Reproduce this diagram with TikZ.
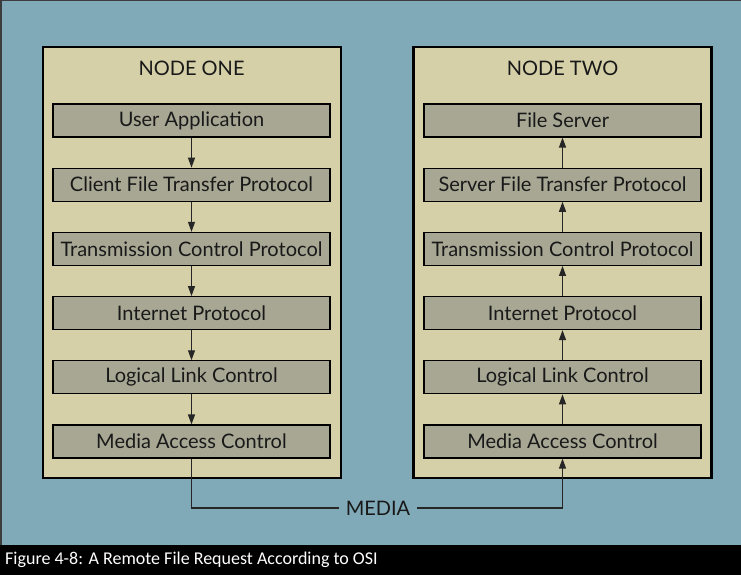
\documentclass[tikz,border=0pt]{standalone}
\usepackage{fontspec}
\setmainfont{Lato}
\newfontfamily\capfont{Carlito}
\usetikzlibrary{arrows.meta}
\definecolor{bgblue}{RGB}{128,170,184}
\definecolor{nodefill}{RGB}{213,208,168}
\definecolor{layerfill}{RGB}{168,167,148}
\definecolor{edgegray}{RGB}{60,60,60}
\tikzset{
  nodebox/.style={draw=black, line width=2.8pt, fill=nodefill, minimum width=298pt, minimum height=431pt, inner sep=0pt},
  layer/.style={draw=black, line width=1.1pt, fill=layerfill, minimum width=277pt, minimum height=33pt, inner sep=0pt, font=\fontsize{20}{24}\selectfont, text=black!90},
  title/.style={font=\fontsize{20}{24}\selectfont, text=black!90},
  conn/.style={line width=1.2pt, black!85},
  arr/.style={conn, -{Triangle[length=10pt,width=7pt]}}
}
\begin{document}
\begin{tikzpicture}[x=1pt,y=-1pt]
\useasboundingbox (0,0) rectangle (741,575);
\fill[bgblue] (0,0) rectangle (741,575);
\draw[edgegray, line width=1.5pt] (0.75,575) -- (0.75,0.75) -- (741,0.75);
\fill[black] (0,545) rectangle (741,575);
\node[anchor=west, text=white, inner sep=0pt, font=\capfont\fontsize{18}{22}\selectfont] (cap) at (5,560) {Figure 4-8: A Remote File Request According to OSI};
% node one
\node[nodebox] (n1) at (192,262.5) {};
\node[title] (t1) at (191.5,68) {NODE ONE};
\node[layer] (a1) at (191.5,120.5) {User Application};
\node[layer] (a2) at (191.5,184.7) {Client File Transfer Protocol};
\node[layer] (a3) at (191.5,248.9) {Transmission Control Protocol};
\node[layer] (a4) at (191.5,313.1) {Internet Protocol};
\node[layer] (a5) at (191.5,377.3) {Logical Link Control};
\node[layer] (a6) at (191.5,441.5) {Media Access Control};
% node two
\node[nodebox] (n2) at (562.5,262.5) {};
\node[title] (t2) at (562.5,68) {NODE TWO};
\node[layer] (b1) at (562.5,120.5) {File Server};
\node[layer] (b2) at (562.5,184.7) {Server File Transfer Protocol};
\node[layer] (b3) at (562.5,248.9) {Transmission Control Protocol};
\node[layer] (b4) at (562.5,313.1) {Internet Protocol};
\node[layer] (b5) at (562.5,377.3) {Logical Link Control};
\node[layer] (b6) at (562.5,441.5) {Media Access Control};
% arrows
\foreach \i/\j in {1/2,2/3,3/4,4/5,5/6}{
  \draw[arr] (a\i.south) -- (a\j.north);
  \draw[arr] (b\j.north) -- (b\i.south);
}
% media
\node[title, inner xsep=7pt, inner ysep=0pt] (media) at (378,508) {MEDIA};
\draw[conn] (a6.south) |- (media.west);
\draw[arr] (media.east) -| (b6.south);
\end{tikzpicture}
\end{document}
